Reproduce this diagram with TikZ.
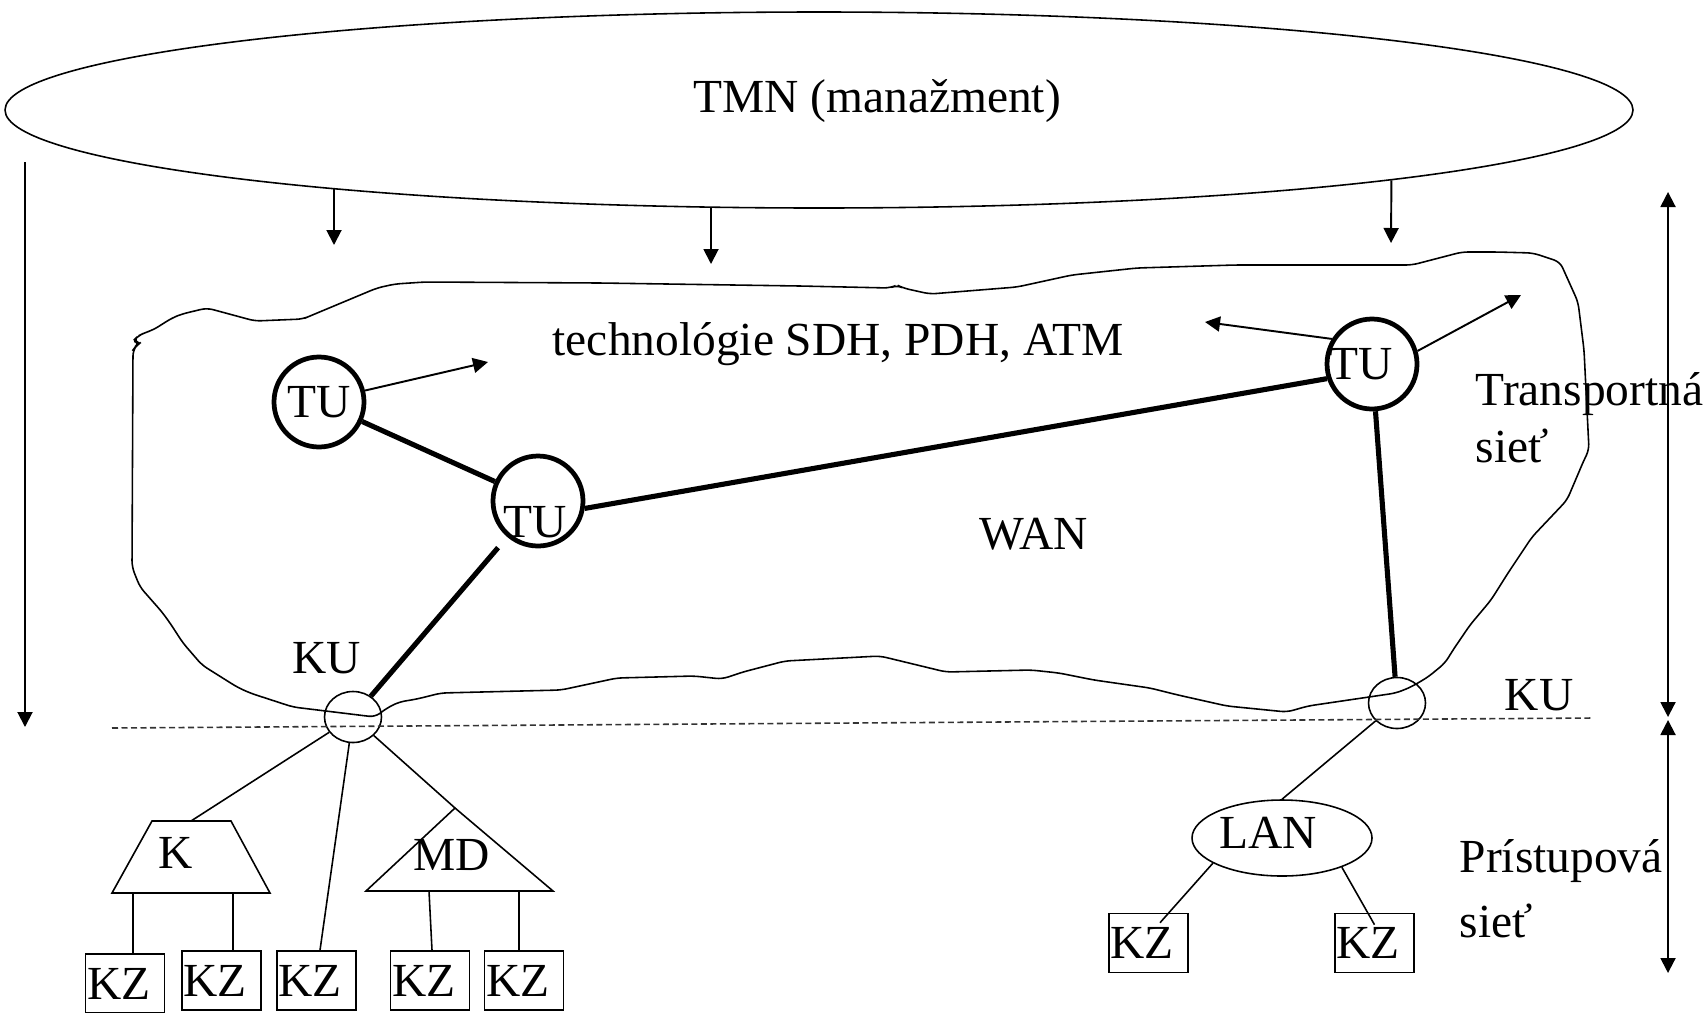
\documentclass[tikz,border=0pt]{standalone}
\usepackage{fontspec}
\setmainfont{Liberation Serif}
\usetikzlibrary{arrows.meta,shapes.geometric}

\begin{document}
\begin{tikzpicture}[x=0.1mm,y=-0.1mm,
  every node/.style={font=\fontsize{13.5}{16}\selectfont},
  txt/.style={inner sep=0pt},
  lnthin/.style={line width=0.45pt},
  lnthick/.style={line width=1.45pt},
  arr/.style={line width=0.55pt,-{Triangle[length=1.5mm,width=1.5mm]}},
  darr/.style={line width=0.55pt,{Triangle[length=1.5mm,width=1.5mm]}-{Triangle[length=1.5mm,width=1.5mm]}},
  dashline/.style={line width=0.45pt,dash pattern=on 0.6mm off 0.35mm,draw=black!80},
  tunode/.style={circle,draw,line width=1.35pt,minimum size=9mm,inner sep=0pt},
  kunode/.style={ellipse,draw,line width=0.45pt,minimum width=5.7mm,minimum height=5.1mm,inner sep=0pt},
  kzbox/.style={rectangle,draw,line width=0.45pt,minimum width=7.9mm,minimum height=5.9mm,
    inner xsep=0.15mm,inner ysep=0pt,text width=7.6mm,align=left}
]
% canvas
\path[fill=white,use as bounding box] (0,0) rectangle (1708,1012);

% management layer
\node[ellipse,draw,lnthin,minimum width=162.8mm,minimum height=19.6mm,inner sep=0pt] (tmn) at (819,110) {};
\node[txt,anchor=base] (tmntxt) at (877,112) {TMN (manažment)};

% transport network outline (WAN)
\draw[lnthin,rounded corners=0.6mm]
  (375,717) -- (293,707) -- (250,693) -- (237,687) -- (202,665) -- (183,643) -- (170,623)
  -- (162,612) -- (140,587) -- (132,567) -- (133,350) -- (136,346) -- (140,343) -- (133,341)
  -- (138,336) -- (144,333) -- (153,330) -- (172,318) -- (182,314) -- (207,308) -- (255,321) -- (303,319)
  -- (310,316) -- (377,288) -- (395,284) -- (425,282) -- (600,283) -- (800,286) -- (890,288)
  -- (897,285) -- (903,288) -- (930,294) -- (1017,287) -- (1072,275) -- (1137,268) -- (1235,265)
  -- (1412,265) -- (1462,252) -- (1497,252) -- (1533,253) -- (1560,262) -- (1578,302) -- (1584,350)
  -- (1589,450) -- (1584,460) -- (1567,500) -- (1532,537) -- (1508,573) -- (1491,600) -- (1470,625)
  -- (1453,650) -- (1445,663) -- (1428,677) -- (1411,687) -- (1396,693) -- (1308,706) -- (1287,712)
  -- (1227,706) -- (1178,695) -- (1150,688) -- (1094,680) -- (1059,673) -- (1031,670) -- (946,672)
  -- (880,656) -- (785,661) -- (743,672) -- (722,679) -- (694,676) -- (617,678) -- (561,690)
  -- (441,693) -- (417,699) -- (399,702) -- (387,708) -- cycle;

\node[txt,anchor=base] (techtxt) at (838,355) {technológie SDH, PDH, ATM};
\node[txt,anchor=base] (wantxt) at (1034,549) {WAN};

% transit nodes
\node[tunode,label={[txt]center:TU}] (tu1) at (319,402) {};
\node[tunode,label={[txt,xshift=-0.3mm,yshift=-2.1mm]center:TU}] (tu2) at (538,501) {};
\node[tunode,label={[txt,xshift=-1.1mm]center:TU}] (tu3) at (1372,364) {};

% boundary nodes
\node[kunode] (kul) at (353,717) {};
\node[kunode] (kur) at (1397,703) {};
\node[txt,anchor=base] (kultxt) at (327,673) {KU};
\node[txt,anchor=base] (kurtxt) at (1539,710) {KU};

% trunk links
\draw[lnthick] (tu1) -- (tu2);
\draw[lnthick] (tu2.-9) -- (tu3.198);
\draw[lnthick,shorten <=1.4mm] (tu2) -- (kul);
\draw[lnthick] (tu3) -- (kur);

% outgoing arrows from transit nodes
\coordinate (a1) at (488,362);
\coordinate (a2) at (1205,322);
\coordinate (a3) at (1521,295);
\draw[arr] (tu1.14) -- (a1);
\draw[arr] (tu3.148) -- (a2);
\draw[arr] (tu3.16) -- (a3);

% management arrows
\coordinate (d1) at (334,245);
\coordinate (d2) at (711,264);
\coordinate (d3) at (1391,243);
\draw[arr] (d1 |- tmn.189) -- (d1);
\draw[arr] (d2 |- tmn.222) -- (d2);
\draw[arr] (tmn.353) -- (d3);

\coordinate (l1) at (25,162);
\coordinate (l2) at (25,727);
\draw[arr] (l1) -- (l2);

% layer extents on the right
\coordinate (r1) at (1668,192);
\coordinate (r2) at (1668,717);
\coordinate (r3) at (1668,720);
\coordinate (r4) at (1668,973);
\draw[darr] (r1) -- (r2);
\draw[darr] (r3) -- (r4);

\node[txt,anchor=base west] (trtxt) at (1475,405) {Transportná};
\node[txt,anchor=base west] (trsiet) at (1475,462) {sieť};
\node[txt,anchor=base west] (prtxt) at (1459,872) {Prístupová};
\node[txt,anchor=base west] (prsiet) at (1459,937) {sieť};

% boundary between transport and access
\coordinate (dl) at (112,728);
\coordinate (dr) at (1593,718);
\draw[dashline] (dl) -- (dr);

% access network, left
\draw[lnthin] (152,821) -- (231,821) -- (270,893) -- (112,893) -- cycle;
\coordinate (Ktop) at (191,821);
\coordinate (Kb1) at (133,893);
\coordinate (Kb2) at (233,893);
\node[txt,anchor=base] (ktxt) at (176,868) {K};

\draw[lnthin] (455,808) -- (553,891) -- (366,891) -- cycle;
\coordinate (MDtop) at (455,808);
\coordinate (Mb1) at (429,891);
\coordinate (Mb2) at (519,891);
\node[txt,anchor=base] (mdtxt) at (452,870) {MD};

\node[kzbox] (kz1) at (125,983.5) {KZ};
\node[kzbox] (kz2) at (221.5,980.5) {KZ};
\node[kzbox] (kz3) at (316.5,980.5) {KZ};
\node[kzbox] (kz4) at (430,980.5) {KZ};
\node[kzbox] (kz5) at (524,980.5) {KZ};

\draw[lnthin] (kul) -- (Ktop);
\draw[lnthin] (kul) -- ([xshift=0.35mm]kz3.north);
\draw[lnthin] (kul) -- (MDtop);
\draw[lnthin] (Kb1) -- (Kb1 |- kz1.north);
\draw[lnthin] (Kb2) -- (Kb2 |- kz2.north);
\draw[lnthin] (Mb1) -- ([xshift=0.2mm]kz4.north);
\draw[lnthin] (Mb2) -- (Mb2 |- kz5.north);

% access network, right
\node[ellipse,draw,lnthin,minimum width=18mm,minimum height=7.6mm,inner sep=0pt,
  label={[txt,xshift=-1.4mm,yshift=0.5mm]center:LAN}] (lan) at (1282,838) {};
\node[kzbox] (kz6) at (1148.5,943) {KZ};
\node[kzbox] (kz7) at (1374.5,943) {KZ};

\draw[lnthin] (kur) -- (lan.north);
\draw[lnthin] (lan.200) -- ([xshift=1.15mm,yshift=-1mm]kz6.north);
\draw[lnthin] (lan.-26) -- ([yshift=-1.2mm]kz7.north);
\end{tikzpicture}
\end{document}
